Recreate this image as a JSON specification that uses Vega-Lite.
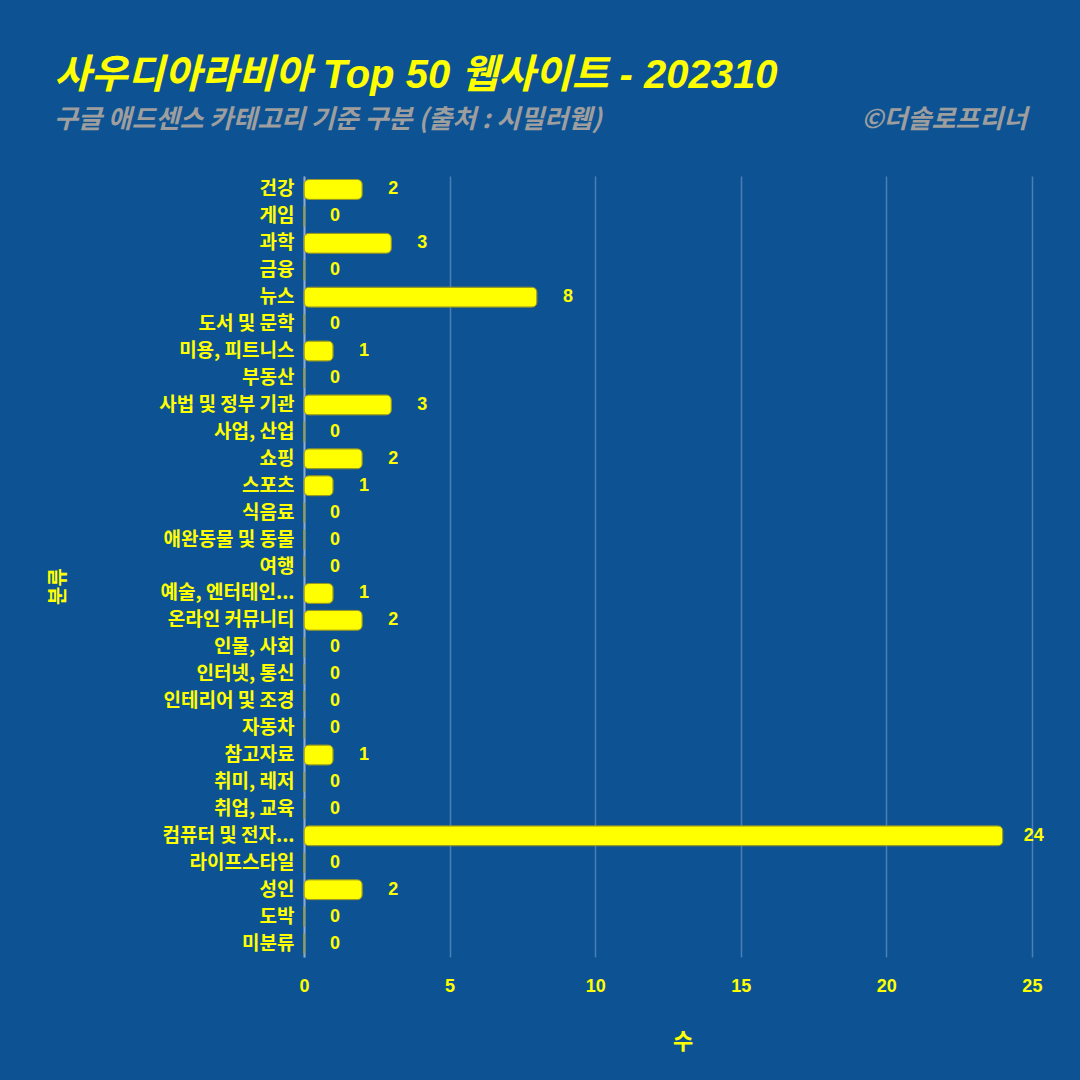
{
  "$schema": "https://vega.github.io/schema/vega-lite/v6.json",
  "width": 757,
  "height": 781,
  "autosize": {"type": "none"},
  "padding": {"left": 304, "top": 176, "right": 19, "bottom": 123},
  "background": "#0D5394",
  "config": {
    "view": {"stroke": null},
    "font": "Noto Sans CJK KR"
  },
  "title": {
    "text": "사우디아라비아 Top 50 웹사이트 - 202310",
    "subtitle": "구글 애드센스 카테고리 기준 구분 (출처 : 시밀러웹)\u00a0\u00a0\u00a0\u00a0\u00a0\u00a0\u00a0\u00a0\u00a0\u00a0\u00a0\u00a0\u00a0\u00a0\u00a0\u00a0\u00a0\u00a0\u00a0\u00a0\u00a0\u00a0\u00a0\u00a0\u00a0\u00a0\u00a0\u00a0\u00a0\u00a0\u00a0\u00a0\u00a0\u00a0\u00a0\u00a0\u00a0\u00a0\u00a0\u00a0\u00a0\u00a0\u00a0\u00a0©더솔로프리너",
    "anchor": "start",
    "frame": "group",
    "dx": -250,
    "offset": 43,
    "font": "Liberation Sans, Noto Sans CJK KR",
    "fontSize": 40,
    "fontWeight": "bold",
    "fontStyle": "italic",
    "color": "#FFFF00",
    "subtitleFont": "Noto Sans CJK KR",
    "subtitleFontSize": 26,
    "subtitleFontStyle": "italic",
    "subtitleFontWeight": "bold",
    "subtitleColor": "#9E9E9E",
    "subtitlePadding": 11
  },
  "data": {
    "values": [
      {"category": "건강", "count": 2},
      {"category": "게임", "count": 0},
      {"category": "과학", "count": 3},
      {"category": "금융", "count": 0},
      {"category": "뉴스", "count": 8},
      {"category": "도서 및 문학", "count": 0},
      {"category": "미용, 피트니스", "count": 1},
      {"category": "부동산", "count": 0},
      {"category": "사법 및 정부 기관", "count": 3},
      {"category": "사업, 산업", "count": 0},
      {"category": "쇼핑", "count": 2},
      {"category": "스포츠", "count": 1},
      {"category": "식음료", "count": 0},
      {"category": "애완동물 및 동물", "count": 0},
      {"category": "여행", "count": 0},
      {"category": "예술, 엔터테인...", "count": 1},
      {"category": "온라인 커뮤니티", "count": 2},
      {"category": "인물, 사회", "count": 0},
      {"category": "인터넷, 통신", "count": 0},
      {"category": "인테리어 및 조경", "count": 0},
      {"category": "자동차", "count": 0},
      {"category": "참고자료", "count": 1},
      {"category": "취미, 레저", "count": 0},
      {"category": "취업, 교육", "count": 0},
      {"category": "컴퓨터 및 전자...", "count": 24},
      {"category": "라이프스타일", "count": 0},
      {"category": "성인", "count": 2},
      {"category": "도박", "count": 0},
      {"category": "미분류", "count": 0}
    ]
  },
  "encoding": {
    "y": {
      "field": "category",
      "type": "nominal",
      "sort": null,
      "scale": {"paddingInner": 0.26, "paddingOuter": 0.13},
      "axis": {
        "title": "분류",
        "titleColor": "#FFFF00",
        "titleFontSize": 20,
        "titleFontWeight": "bold",
        "titleX": -236,
        "titleY": 410,
        "titleAngle": 270,
        "labelColor": "#FFFF00",
        "labelFontSize": 19,
        "labelFontWeight": "bold",
        "labelPadding": 10,
        "labelLimit": 300,
        "ticks": false,
        "domain": true,
        "domainColor": "#8FA9C9",
        "domainWidth": 2,
        "grid": false
      }
    },
    "x": {
      "field": "count",
      "type": "quantitative",
      "scale": {"domain": [0, 26], "nice": false},
      "axis": {
        "title": "수",
        "titleColor": "#FFFF00",
        "titleFontSize": 22,
        "titleFontWeight": "bold",
        "titlePadding": 36,
        "values": [0, 5, 10, 15, 20, 25],
        "labelColor": "#FFFF00",
        "labelFont": "Liberation Sans",
        "labelFontSize": 18,
        "labelFontWeight": "bold",
        "labelPadding": 20,
        "labelFlush": false,
        "ticks": false,
        "domain": false,
        "grid": true,
        "gridColor": "#4B7EB4",
        "gridWidth": 1.5
      }
    }
  },
  "layer": [
    {
      "mark": {
        "type": "bar",
        "color": "#FFFF00",
        "stroke": "#9A9A20",
        "strokeWidth": 1,
        "cornerRadius": 5
      }
    },
    {
      "mark": {
        "type": "text",
        "font": "Liberation Sans",
        "color": "#FFFF00",
        "fontSize": 18,
        "fontWeight": "bold",
        "dx": 31,
        "align": "center",
        "baseline": "middle"
      },
      "encoding": {
        "text": {"field": "count", "type": "quantitative"}
      }
    }
  ]
}
